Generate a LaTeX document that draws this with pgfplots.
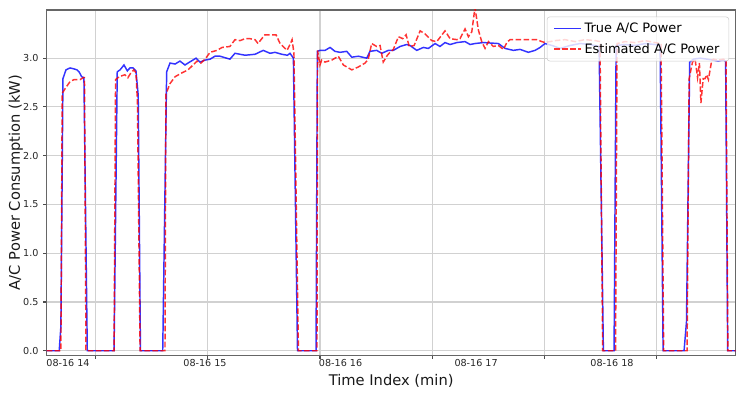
\documentclass[border=0pt]{standalone}
\usepackage{fontspec}
\setmainfont{DejaVu Sans}
\usepackage{pgfplots}
\pgfplotsset{compat=1.18}
\definecolor{tblue}{RGB}{0,0,255}
\definecolor{ered}{RGB}{255,0,0}
\begin{document}
\begin{tikzpicture}
\begin{axis}[
  scale only axis, width=516.75pt, height=258.75pt,
  xmin=34, xmax=402.1, ymin=-0.044, ymax=3.494,
  xtick={60,120,180,240,300,360}, xticklabels={},
  extra x ticks={45.4,118.6,191.0,263.4,336.0},
  extra x tick labels={08-16 14,08-16 15,08-16 16,08-16 17,08-16 18},
  extra x tick style={grid=none, major tick length=0pt},
  ytick={0,0.5,1.0,1.5,2.0,2.5,3.0},
  yticklabel style={/pgf/number format/fixed, /pgf/number format/fixed zerofill, /pgf/number format/precision=1},
  /pgf/number format/assume math mode=true,
  tick label style={font=\fontsize{7.2}{8}\selectfont, text=black!85},
  grid=major, major grid style={black!18, line width=0.8pt},
  axis line style={black!60, line width=0.8pt},
  tick style={black!70, line width=0.8pt}, tick align=outside, major tick length=2.6pt,
  tick pos=left,
  xlabel={Time Index (min)}, ylabel={A/C Power Consumption (kW)},
  label style={font=\fontsize{11}{13}\selectfont, text=black!90},
  xlabel style={at={(axis description cs:0.5,-0.074)}, anchor=center},
  ylabel style={at={(axis description cs:-0.0446,0.5)}, anchor=center},
  legend style={at={(axis description cs:1,1)}, anchor=north east, xshift=-5pt, yshift=-5pt,
    draw=black!20, rounded corners=2pt, fill=white, fill opacity=0.8, text opacity=1, draw opacity=1,
    font=\fontsize{9.7}{11}\selectfont, row sep=2.5pt, inner xsep=5pt, inner ysep=2.5pt},
  legend cell align=left,
  legend image code/.code={\draw[#1] (0pt,0pt) -- (20pt,0pt);},
]
\addplot[tblue, opacity=0.8, line width=1.1pt] coordinates {
(34.0,0) (40.7,0) (41.6,0.25) (42.7,2.79) (44.3,2.88) (46.5,2.90) (48.6,2.89) (50.2,2.88) (51.3,2.86) (52.7,2.81) (53.9,2.80) (55.7,0)
(70.0,0) (71.7,2.86) (73.2,2.88) (75.3,2.93) (77.1,2.87) (78.5,2.90) (80.1,2.90) (81.7,2.87) (82.9,2.62) (84.1,0)
(96.0,0) (98.1,2.86) (99.9,2.95) (102.6,2.94) (105.2,2.97) (107.9,2.93) (109.5,2.95) (113.8,3.00) (115.9,2.96) (118.6,2.98) (121.3,2.99) (123.9,3.02) (126.6,3.02) (131.9,2.99) (134.6,3.05) (140.0,3.03) (145.3,3.04) (149.7,3.08) (153.3,3.05) (156.0,3.06) (159.6,3.04) (162.6,3.03) (164.0,3.05) (165.8,3.00) (168.0,0)
(177.9,0) (178.6,3.07) (180.0,3.08) (182.7,3.08) (185.4,3.11) (188.0,3.07) (190.7,3.06) (194.3,3.07) (197.0,3.01) (200.5,3.02) (205.0,3.00) (206.7,3.07) (210.3,3.08) (213.0,3.05) (216.5,3.08) (219.2,3.08) (222.8,3.12) (226.3,3.14) (228.1,3.13) (231.7,3.08) (235.2,3.11) (237.9,3.10) (241.5,3.15) (244.1,3.12) (246.8,3.16) (249.5,3.14) (253.1,3.16) (257.5,3.17) (260.2,3.14) (262.8,3.15) (267.3,3.16) (275.3,3.15) (278.9,3.10) (283.3,3.08) (286.9,3.09) (291.3,3.06) (294.9,3.08) (297.6,3.11) (300.2,3.15) (304.0,3.13) (308.3,3.10) (313.6,3.13) (318.9,3.15) (324.3,3.14) (329.1,3.12) (331.4,0)
(337.1,0) (338.2,3.13) (343.0,3.14) (348.3,3.13) (353.7,3.15) (359.0,3.14) (361.7,3.13) (363.3,0)
(374.5,0) (375.8,0.30) (377.5,2.96) (379.5,2.99) (383.1,3.00) (386.8,2.99) (390.0,2.98) (392.7,2.97) (395.4,2.98) (396.7,2.97) (397.8,0) (402.1,0)
};
\addlegendentry{True A/C Power}
\addplot[ered, opacity=0.8, line width=1.1pt, dash pattern=on 4.2pt off 1.8pt] coordinates {
(34.0,0) (41.6,0) (42.3,2.64) (44.3,2.70) (46.5,2.76) (48.6,2.78) (51.8,2.78) (53.6,2.80) (54.2,2.80) (55.0,0)
(70.0,0) (70.8,2.78) (72.1,2.80) (74.2,2.82) (75.8,2.83) (77.4,2.80) (79.0,2.85) (80.6,2.88) (81.7,2.85) (82.5,2.55) (83.9,0)
(97.2,0) (97.7,2.63) (99.9,2.74) (102.6,2.81) (106.3,2.85) (109.5,2.88) (112.2,2.93) (114.3,2.97) (116.4,2.95) (118.6,2.99) (121.3,3.06) (125.0,3.08) (127.7,3.11) (131.9,3.12) (134.6,3.19) (137.3,3.18) (140.0,3.20) (142.6,3.20) (145.3,3.19) (146.9,3.15) (148.5,3.19) (150.6,3.24) (153.3,3.24) (156.5,3.24) (158.7,3.15) (160.3,3.12) (162.4,3.08) (164.0,3.14) (165.1,3.19) (166.1,3.05) (168.5,0)
(178.4,0) (178.7,3.08) (180.0,2.93) (180.9,2.98) (182.7,2.96) (186.3,2.98) (189.8,3.02) (192.5,2.93) (197.0,2.88) (200.5,2.91) (204.1,2.95) (205.8,2.99) (207.6,3.15) (210.3,3.12) (212.1,3.13) (213.8,2.96) (216.0,3.03) (217.4,3.06) (219.2,3.09) (221.9,3.22) (224.2,3.20) (226.0,3.24) (227.7,3.12) (230.3,3.13) (233.5,3.28) (236.1,3.25) (239.7,3.18) (242.4,3.17) (246.8,3.28) (249.5,3.20) (253.1,3.19) (254.8,3.20) (257.5,3.30) (259.3,3.22) (261.1,3.27) (262.8,3.52) (264.6,3.29) (266.4,3.17) (268.2,3.10) (270.0,3.17) (272.6,3.12) (275.3,3.13) (278.0,3.09) (279.8,3.16) (281.5,3.19) (286.9,3.19) (292.2,3.19) (295.8,3.19) (298.5,3.17) (300.2,3.16) (305.6,3.18) (310.9,3.19) (316.3,3.17) (321.6,3.19) (327.0,3.18) (329.6,3.17) (331.0,0)
(337.9,0) (338.7,3.15) (343.0,3.17) (348.3,3.16) (353.7,3.18) (359.0,3.16) (362.2,3.15) (363.6,0)
(376.1,0) (377.2,2.79) (379.0,2.96) (380.4,2.99) (381.7,2.80) (382.7,2.95) (383.5,2.54) (384.7,2.79) (385.7,2.79) (386.6,2.83) (387.5,2.78) (389.3,2.98) (390.2,2.99) (392.7,2.98) (395.4,2.99) (396.9,2.98) (397.9,0) (402.1,0)
};
\addlegendentry{Estimated A/C Power}
\end{axis}
\pgfresetboundingbox
\path[use as bounding box] ([xshift=-35pt,yshift=-31.5pt]current axis.south west) rectangle ([xshift=10.7pt,yshift=7.5pt]current axis.north east);
\end{tikzpicture}
\end{document}
